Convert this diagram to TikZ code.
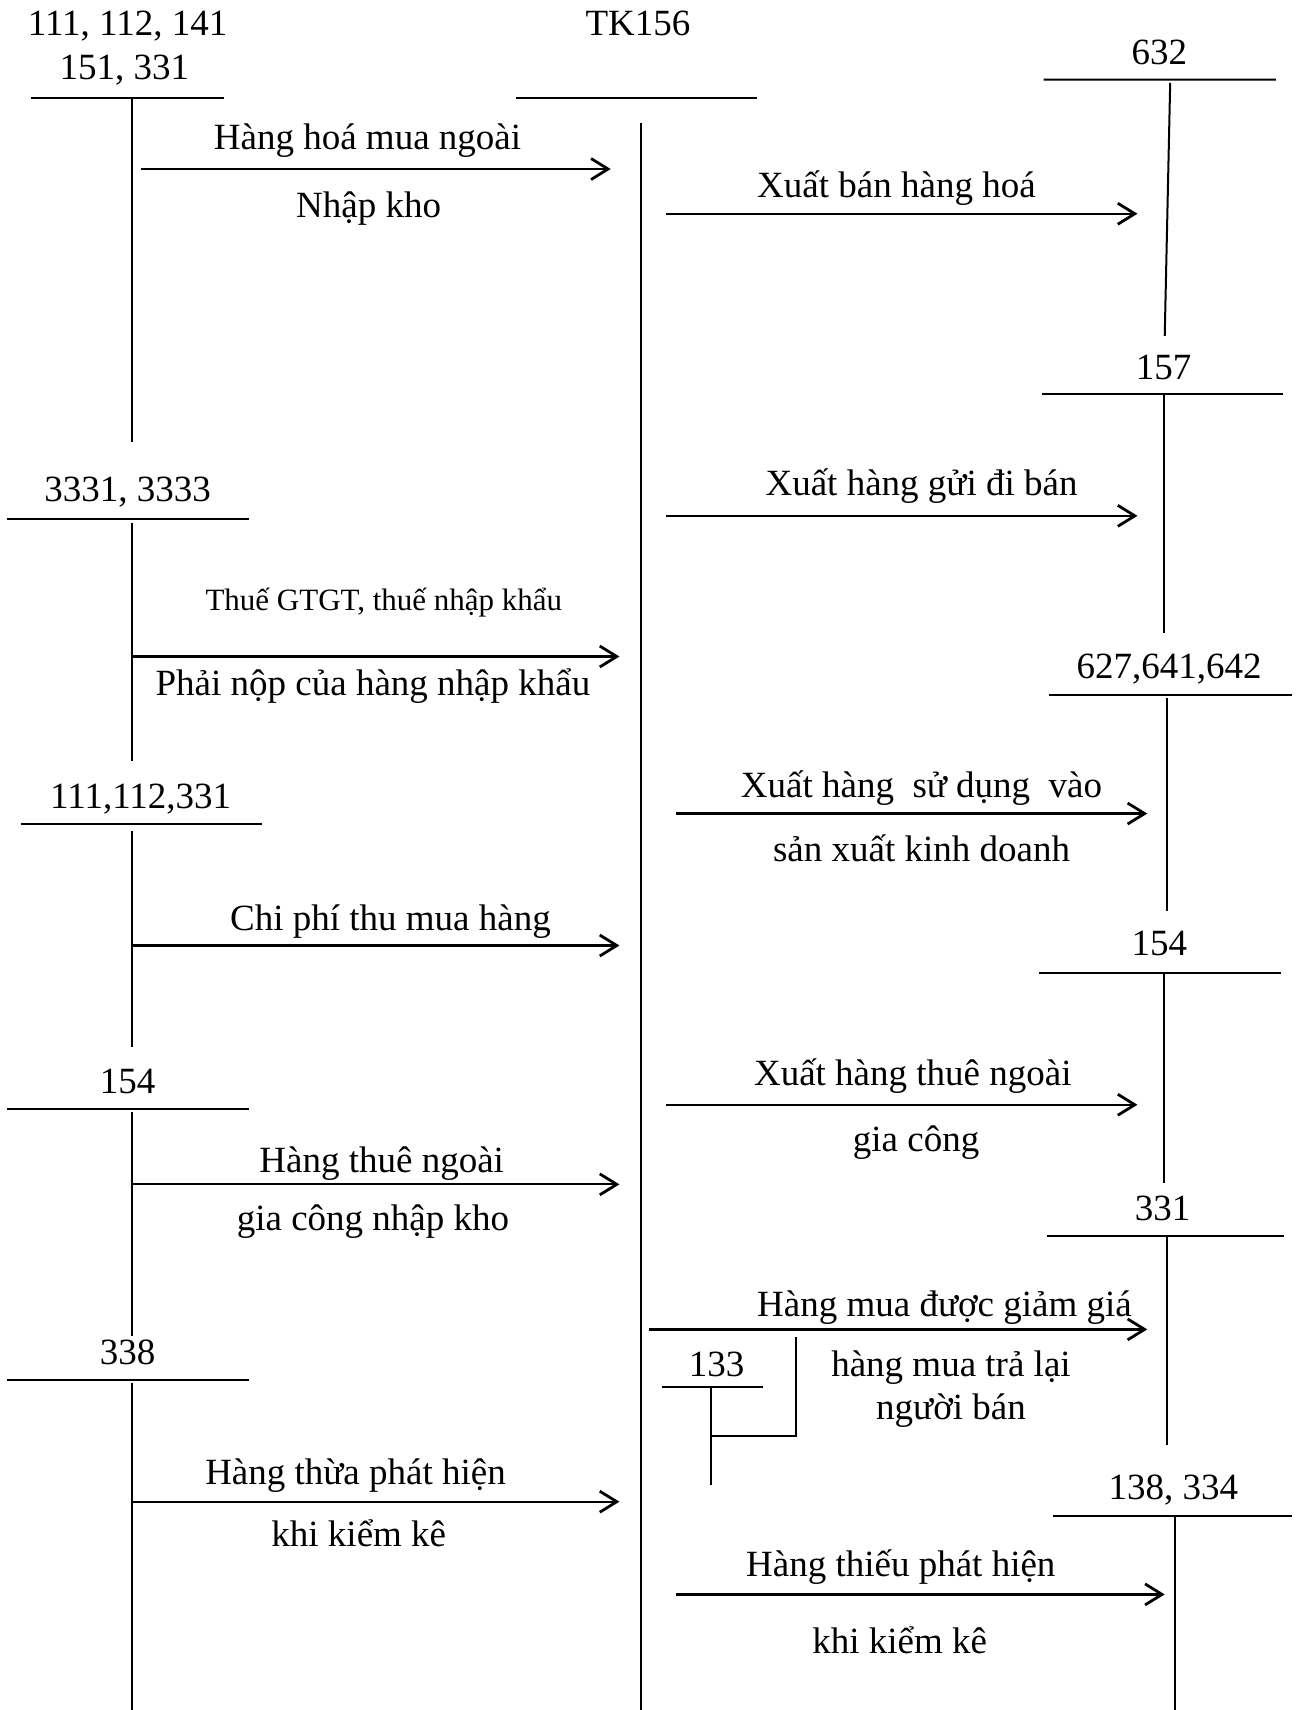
\documentclass[tikz,border=0pt]{standalone}
\usepackage{fontspec}
\setmainfont{Liberation Serif}
\usetikzlibrary{arrows.meta}
\tikzset{
  lbl/.style={anchor=base,inner sep=0pt,font=\fontsize{37}{42}\selectfont},
  slbl/.style={anchor=base,inner sep=0pt,font=\fontsize{31}{36}\selectfont},
  tline/.style={line width=2pt},
  arr/.style={line width=2.2pt,-{Straight Barb[length=17pt,width=21pt,line width=2.8pt]}}
}
\begin{document}
\begin{tikzpicture}[x=1.0906pt,y=-1.0906pt]
\useasboundingbox (0,0) rectangle (1192,1568);
\fill[white] (0,0) rectangle (1192,1568);

% ---------- labels: account names ----------
\node[lbl] (tA1) at (117,33) {111, 112, 141};
\node[lbl] (tA2) at (114,73) {151, 331};
\node[lbl] (tTK) at (585,33) {TK156};
\node[lbl] (tB) at (117,460) {3331, 3333};
\node[lbl] (tC) at (129,741) {111,112,331};
\node[lbl] (tD) at (117,1003) {154};
\node[lbl] (tE) at (117,1251) {338};
\node[lbl] (tR1) at (1063,59) {632};
\node[lbl] (tR2) at (1067,348) {157};
\node[lbl] (tR3) at (1072,622) {627,641,642};
\node[lbl] (tR4) at (1063,876) {154};
\node[lbl] (tR5) at (1066,1119) {331};
\node[lbl] (tR6) at (1076,1375) {138, 334};
\node[lbl] (t133) at (657,1262) {133};

% ---------- labels: entries ----------
\node[lbl] (l1a) at (337,137) {Hàng hoá mua ngoài};
\node[lbl] (l1b) at (338,199) {Nhập kho};
\node[lbl] (l2) at (822,181) {Xuất bán hàng hoá};
\node[lbl] (l3) at (845,454) {Xuất hàng gửi đi bán};
\node[slbl] (l4a) at (352,560) {Thuế GTGT, thuế nhập khẩu};
\node[lbl] (l4b) at (342,638) {Phải nộp của hàng nhập khẩu};
\node[lbl] (l5a) at (845,731) {Xuất hàng~ sử dụng~ vào};
\node[lbl] (l5b) at (845,790) {sản xuất kinh doanh};
\node[lbl] (l6) at (358,853) {Chi phí thu mua hàng};
\node[lbl] (l7a) at (837,995) {Xuất hàng thuê ngoài};
\node[lbl] (l7b) at (840,1056) {gia công};
\node[lbl] (l8a) at (350,1075) {Hàng thuê ngoài};
\node[lbl] (l8b) at (342,1128) {gia công nhập kho};
\node[lbl] (l9a) at (866,1207) {Hàng mua được giảm giá};
\node[lbl] (l9b) at (872,1262) {hàng mua trả lại};
\node[lbl] (l9c) at (872,1302) {người bán};
\node[lbl] (l10a) at (326,1361) {Hàng thừa phát hiện};
\node[lbl] (l10b) at (329,1418) {khi kiểm kê};
\node[lbl] (l11a) at (826,1446) {Hàng thiếu phát hiện};
\node[lbl] (l11b) at (825,1516) {khi kiểm kê};

% ---------- T-account coordinates ----------
\coordinate (A1) at (28,90);   \coordinate (A2) at (205,90);
\coordinate (Av1) at (121,90); \coordinate (Av2) at (121,405);
\coordinate (B1) at (6,476);   \coordinate (B2) at (228,476);
\coordinate (Bv1) at (121,480); \coordinate (Bv2) at (121,698);
\coordinate (C1) at (19,756);  \coordinate (C2) at (240,756);
\coordinate (Cv1) at (121,762); \coordinate (Cv2) at (121,960);
\coordinate (D1) at (6,1017);  \coordinate (D2) at (228,1017);
\coordinate (Dv1) at (121,1020); \coordinate (Dv2) at (121,1225);
\coordinate (E1) at (6,1265);  \coordinate (E2) at (228,1265);
\coordinate (Ev1) at (121,1268); \coordinate (Ev2) at (121,1572);
\coordinate (T1) at (473,90);  \coordinate (T2) at (694,90);
\coordinate (Tv1) at (588,113); \coordinate (Tv2) at (588,1572);
\coordinate (R1a) at (957,73);  \coordinate (R1b) at (1170,73);
\coordinate (R1v1) at (1073,76); \coordinate (R1v2) at (1068,308);
\coordinate (R2a) at (955,361); \coordinate (R2b) at (1176,361);
\coordinate (R2v1) at (1067,361); \coordinate (R2v2) at (1067,580);
\coordinate (R3a) at (962,637); \coordinate (R3b) at (1185,637);
\coordinate (R3v1) at (1070,640); \coordinate (R3v2) at (1070,835);
\coordinate (R4a) at (953,892); \coordinate (R4b) at (1175,892);
\coordinate (R4v1) at (1067,892); \coordinate (R4v2) at (1067,1085);
\coordinate (R5a) at (960,1133); \coordinate (R5b) at (1177,1133);
\coordinate (R5v1) at (1070,1133); \coordinate (R5v2) at (1070,1325);
\coordinate (R6a) at (966,1390); \coordinate (R6b) at (1185,1390);
\coordinate (R6v1) at (1077,1390); \coordinate (R6v2) at (1077,1572);
\coordinate (K1) at (607,1272); \coordinate (K2) at (700,1272);
\coordinate (Kv1) at (652,1272); \coordinate (Kv2) at (652,1362);
\coordinate (Kh1) at (652,1317); \coordinate (Kh2) at (730,1317);
\coordinate (Ku) at (730,1226);

\draw[tline] (A1) -- (A2) (Av1) -- (Av2);
\draw[tline] (B1) -- (B2) (Bv1) -- (Bv2);
\draw[tline] (C1) -- (C2) (Cv1) -- (Cv2);
\draw[tline] (D1) -- (D2) (Dv1) -- (Dv2);
\draw[tline] (E1) -- (E2) (Ev1) -- (Ev2);
\draw[tline] (T1) -- (T2) (Tv1) -- (Tv2);
\draw[tline] (R1a) -- (R1b) (R1v1) -- (R1v2);
\draw[tline] (R2a) -- (R2b) (R2v1) -- (R2v2);
\draw[tline] (R3a) -- (R3b) (R3v1) -- (R3v2);
\draw[tline] (R4a) -- (R4b) (R4v1) -- (R4v2);
\draw[tline] (R5a) -- (R5b) (R5v1) -- (R5v2);
\draw[tline] (R6a) -- (R6b) (R6v1) -- (R6v2);
\draw[tline] (K1) -- (K2) (Kv1) -- (Kv2);
\draw[tline] (Kh1) -- (Kh2) -- (Ku);

% ---------- arrows ----------
\coordinate (a1s) at (129,155);  \coordinate (a1e) at (560,155);
\coordinate (a2s) at (611,196);  \coordinate (a2e) at (1043,196);
\coordinate (a3s) at (611,473);  \coordinate (a3e) at (1043,473);
\coordinate (a4s) at (121,602);  \coordinate (a4e) at (568,602);
\coordinate (a5s) at (620,746);  \coordinate (a5e) at (1052,746);
\coordinate (a6s) at (121,867);  \coordinate (a6e) at (568,867);
\coordinate (a7s) at (611,1013); \coordinate (a7e) at (1043,1013);
\coordinate (a8s) at (121,1086); \coordinate (a8e) at (568,1086);
\coordinate (a9s) at (595,1219); \coordinate (a9e) at (1052,1219);
\coordinate (a10s) at (121,1377); \coordinate (a10e) at (568,1377);
\coordinate (a11s) at (620,1462); \coordinate (a11e) at (1068,1462);

\draw[arr] (a1s) -- (a1e);
\draw[arr] (a2s) -- (a2e);
\draw[arr] (a3s) -- (a3e);
\draw[arr] (a4s) -- (a4e);
\draw[arr] (a5s) -- (a5e);
\draw[arr] (a6s) -- (a6e);
\draw[arr] (a7s) -- (a7e);
\draw[arr] (a8s) -- (a8e);
\draw[arr] (a9s) -- (a9e);
\draw[arr] (a10s) -- (a10e);
\draw[arr] (a11s) -- (a11e);
\end{tikzpicture}
\end{document}
